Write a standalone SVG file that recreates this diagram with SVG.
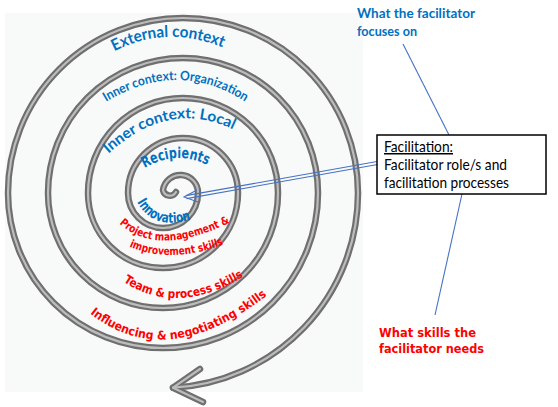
<svg xmlns="http://www.w3.org/2000/svg" width="558" height="407" viewBox="0 0 558 407">
<defs>
<style>
.tube{fill:none;stroke:#6f6f6f;stroke-width:6.5;stroke-linecap:round;stroke-linejoin:round}
.hl{fill:none;stroke:#bcbcbc;stroke-width:2.2;stroke-linecap:round;stroke-linejoin:round}
.cal{font-family:Lato,"Open Sans","Liberation Sans",sans-serif;font-weight:bold;fill:#0070c0}
.comb{font-family:"DejaVu Sans","Noto Sans",sans-serif;font-weight:bold;fill:#0070c0}
.red{font-family:"DejaVu Sans","Noto Sans",sans-serif;font-weight:bold;fill:#ff0000}
.box{font-family:Lato,"Open Sans","Liberation Sans",sans-serif;fill:#000}
.lnk{fill:none;stroke:#4472c4;stroke-width:1.1}
</style>
<path id="p1" d="M113,52 Q165.5,24 224,48"/>
<path id="p2" d="M104,103 Q178.5,57 247,103"/>
<path id="p3" d="M106,156 Q169,96.5 236,131"/>
<path id="p4" d="M143,169 Q176,148.5 209,166"/>
<path id="p5" d="M136,200 Q152,232 193,219"/>
<path id="p6" d="M117,221 Q155,260 233,221"/>
<path id="p7" d="M128,246 Q169.5,265 225,244"/>
<path id="p8" d="M121,280 Q176.5,318.5 246,275"/>
<path id="p9" d="M87,311 Q165.5,376 270,293"/>
</defs>
<rect x="5" y="13" width="358" height="379" fill="#f8f9f9"/>
<g id="spiral">
<path class="tube" d="M176,192 A7,7 0 0 1 163,190 A17.6,17.6 0 0 1 198,193 A35,35 0 0 1 128,193 A55,55 0 0 1 238,193 A75,75 0 0 1 88,193 A95,95 0 0 1 278,193 A115,115 0 0 1 48,193 A135,135 0 0 1 318,193 A155,155 0 0 1 8,193 A175,175 0 0 1 358,193 A195,195 0 0 1 173,387.7"/>
<path class="tube" d="M200,369 L173,387.7 L203,402"/>
<path class="hl" d="M176,192 A7,7 0 0 1 163,190 A17.6,17.6 0 0 1 198,193 A35,35 0 0 1 128,193 A55,55 0 0 1 238,193 A75,75 0 0 1 88,193 A95,95 0 0 1 278,193 A115,115 0 0 1 48,193 A135,135 0 0 1 318,193 A155,155 0 0 1 8,193 A175,175 0 0 1 358,193 A195,195 0 0 1 173,387.7"/>
<path class="hl" d="M200,369 L173,387.7 L203,402"/>
</g>
<g id="spiral-labels">
<text class="cal" font-size="16"><textPath href="#p1" startOffset="50%" text-anchor="middle" textLength="112" lengthAdjust="spacingAndGlyphs">External context</textPath></text>
<text class="cal" font-size="13"><textPath href="#p2" startOffset="50%" text-anchor="middle" textLength="148" lengthAdjust="spacingAndGlyphs">Inner context: Organization</textPath></text>
<text class="cal" font-size="15"><textPath href="#p3" startOffset="50%" text-anchor="middle" textLength="136" lengthAdjust="spacingAndGlyphs">Inner context: Local</textPath></text>
<text class="comb" font-size="15"><textPath href="#p4" startOffset="50%" text-anchor="middle" textLength="66" lengthAdjust="spacingAndGlyphs">Recipients</textPath></text>
<text class="comb" font-size="14" font-weight="normal"><textPath href="#p5" startOffset="50%" text-anchor="middle" textLength="62" lengthAdjust="spacingAndGlyphs">Innovation</textPath></text>
<text class="red" font-size="11"><textPath href="#p6" startOffset="50%" text-anchor="middle" textLength="118" lengthAdjust="spacingAndGlyphs">Project management &amp;</textPath></text>
<text class="red" font-size="11"><textPath href="#p7" startOffset="50%" text-anchor="middle" textLength="97" lengthAdjust="spacingAndGlyphs">improvement skills</textPath></text>
<text class="red" font-size="12"><textPath href="#p8" startOffset="50%" text-anchor="middle" textLength="128" lengthAdjust="spacingAndGlyphs">Team &amp; process skills</textPath></text>
<text class="red" font-size="12"><textPath href="#p9" startOffset="50%" text-anchor="middle" textLength="194" lengthAdjust="spacingAndGlyphs">Influencing &amp; negotiating skills</textPath></text>
</g>
<g id="connectors">
<line class="lnk" x1="403" y1="44" x2="449" y2="135"/>
<line class="lnk" x1="462" y1="194" x2="435" y2="315"/>
<line class="lnk" x1="377" y1="161.5" x2="186" y2="195.6"/>
<line class="lnk" x1="377.5" y1="164.5" x2="186.5" y2="198.6"/>
<path class="lnk" d="M197,190 L184,197 L198,202"/>
</g>
<g id="focus-label">
<text class="cal" font-size="14" x="357" y="18" textLength="118" lengthAdjust="spacingAndGlyphs">What the facilitator</text>
<text class="cal" font-size="14" x="357" y="36" textLength="60" lengthAdjust="spacingAndGlyphs">focuses on</text>
</g>
<g id="facilitation-box">
<rect x="377" y="135" width="169" height="59" fill="#fff" stroke="#000" stroke-width="1.5"/>
<text class="box" font-size="15" x="384" y="152" text-decoration="underline" textLength="69" lengthAdjust="spacingAndGlyphs">Facilitation:</text>
<text class="box" font-size="15" x="384" y="170" textLength="123" lengthAdjust="spacingAndGlyphs">Facilitator role/s and</text>
<text class="box" font-size="15" x="384" y="188" textLength="125" lengthAdjust="spacingAndGlyphs">facilitation processes</text>
</g>
<g id="skills-label">
<text class="red" font-size="12" x="379" y="337" textLength="97" lengthAdjust="spacingAndGlyphs">What skills the</text>
<text class="red" font-size="12" x="379" y="353" textLength="105" lengthAdjust="spacingAndGlyphs">facilitator needs</text>
</g>
</svg>
